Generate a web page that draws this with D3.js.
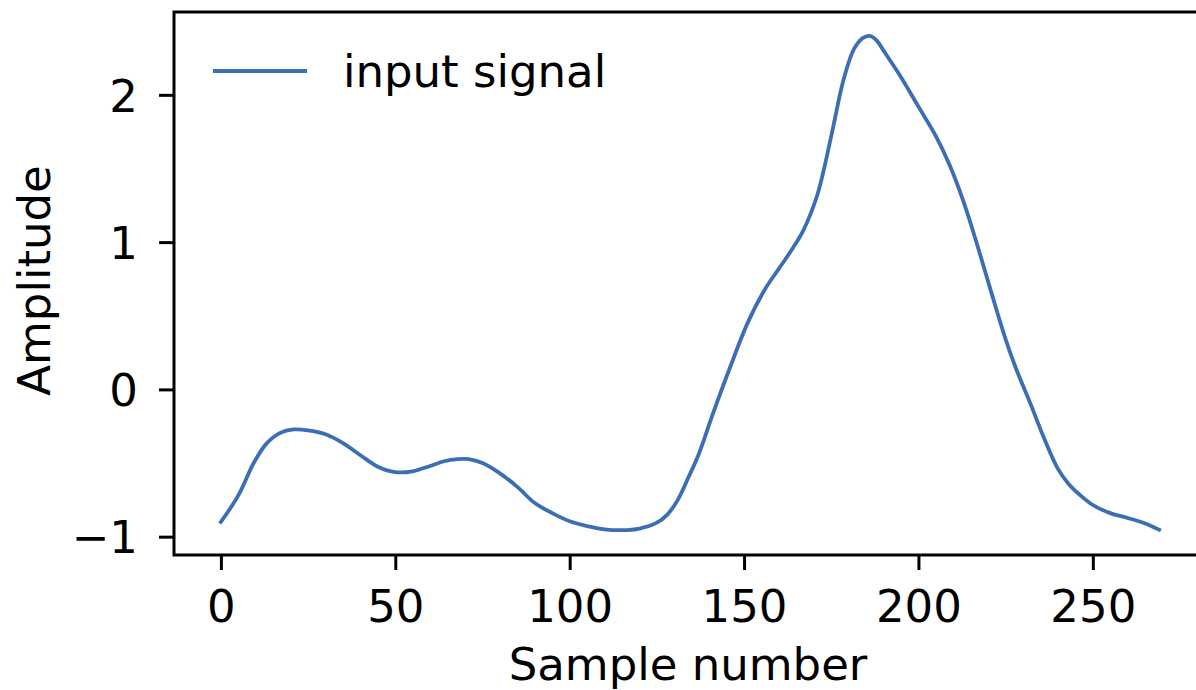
<!DOCTYPE html>
<html>
<head>
<meta charset="utf-8">
<script src="https://cdn.jsdelivr.net/npm/d3@7"></script>
<style>
  html, body { margin: 0; padding: 0; background: #fff; }
  svg { display: block; font-family: "DejaVu Sans", sans-serif; }
</style>
</head>
<body>
<svg id="chart" width="1196" height="690"></svg>
<script>
// Sample positions and signal amplitude
const sampleIdx = [0, 5, 9.4, 13, 17, 20.8, 25, 30, 35, 40, 45, 50, 55, 60, 64, 68, 71, 75, 80, 85, 90, 95, 100, 105, 110, 115, 120, 125, 128, 131, 134, 137, 141, 146, 151, 156, 160, 164, 167, 171, 175, 178.5, 181.5, 184, 186, 188, 190, 195, 200, 205, 209, 213, 217, 221, 225, 228, 232, 236, 240, 243, 246, 250, 255, 260, 265, 269];
const amplitude = [-0.90, -0.72, -0.50, -0.37, -0.295, -0.272, -0.278, -0.305, -0.365, -0.447, -0.525, -0.562, -0.556, -0.52, -0.488, -0.474, -0.474, -0.50, -0.57, -0.662, -0.772, -0.84, -0.895, -0.928, -0.95, -0.956, -0.945, -0.905, -0.85, -0.75, -0.60, -0.44, -0.17, 0.15, 0.45, 0.68, 0.82, 0.96, 1.08, 1.32, 1.72, 2.10, 2.31, 2.385, 2.40, 2.37, 2.30, 2.12, 1.92, 1.72, 1.52, 1.27, 0.97, 0.65, 0.34, 0.14, -0.09, -0.33, -0.54, -0.64, -0.71, -0.785, -0.84, -0.873, -0.91, -0.952];

const xTicks = [0, 50, 100, 150, 200, 250];
const yTicks = [-1, 0, 1, 2];
const seriesLabel = "input signal";
const xTitle = "Sample number";
const yTitle = "Amplitude";

const lineColor = "#3c6eb4";
const fontSize = 45;

const svg = d3.select("#chart");
const plotLeft = 174, plotRight = 1206, plotTop = 12, plotBottom = 555;

const x = d3.scaleLinear().domain([-13.45, 282.45]).range([plotLeft, plotRight]);
const y = d3.scaleLinear().domain([-1.1245, 2.5625]).range([plotBottom, plotTop]);

const data = sampleIdx.map((s, i) => ({ s, v: amplitude[i] }));

// Signal trace
const line = d3.line()
  .x(d => x(d.s))
  .y(d => y(d.v))
  .curve(d3.curveCatmullRom.alpha(0.5));

svg.append("path")
  .datum(data)
  .attr("d", line)
  .attr("fill", "none")
  .attr("stroke", lineColor)
  .attr("stroke-width", 3.8)
  .attr("stroke-linejoin", "round")
  .attr("stroke-linecap", "square");

// Axes
const xAxis = d3.axisBottom(x).tickValues(xTicks).tickSize(15).tickPadding(20).tickSizeOuter(0);
const yAxis = d3.axisLeft(y).tickValues(yTicks).tickSize(15).tickPadding(21).tickSizeOuter(0)
  .tickFormat(d => d < 0 ? "\u2212" + Math.abs(d) : String(d));

const gx = svg.append("g").attr("transform", `translate(0,${plotBottom})`).call(xAxis);
const gy = svg.append("g").attr("transform", `translate(${plotLeft},0)`).call(yAxis);

[gx, gy].forEach(g => {
  g.select(".domain").remove();
  g.selectAll(".tick line").attr("stroke", "#000").attr("stroke-width", 3);
  g.selectAll(".tick text")
    .attr("fill", "#000")
    .style("font-size", fontSize + "px")
    .style("font-family", "DejaVu Sans, sans-serif");
});
gy.selectAll(".tick text").attr("dy", "0.36em");

// Spines
svg.append("rect")
  .attr("x", plotLeft).attr("y", plotTop)
  .attr("width", plotRight - plotLeft).attr("height", plotBottom - plotTop)
  .attr("fill", "none")
  .attr("stroke", "#000")
  .attr("stroke-width", 3)
  .attr("stroke-linejoin", "miter");

// Axis titles
svg.append("text")
  .attr("x", (plotLeft + plotRight) / 2 - 2)
  .attr("y", 680)
  .attr("text-anchor", "middle")
  .style("font-size", fontSize + "px")
  .text(xTitle);

svg.append("text")
  .attr("transform", `translate(50,${(plotTop + plotBottom) / 2 - 3}) rotate(-90)`)
  .attr("text-anchor", "middle")
  .style("font-size", fontSize + "px")
  .text(yTitle);

// Legend
const legend = svg.append("g");
legend.append("line")
  .attr("x1", 213).attr("x2", 307)
  .attr("y1", 71).attr("y2", 71)
  .attr("stroke", lineColor)
  .attr("stroke-width", 3.8);
legend.append("text")
  .attr("x", 343)
  .attr("y", 87)
  .style("font-size", fontSize + "px")
  .text(seriesLabel);
</script>
</body>
</html>
